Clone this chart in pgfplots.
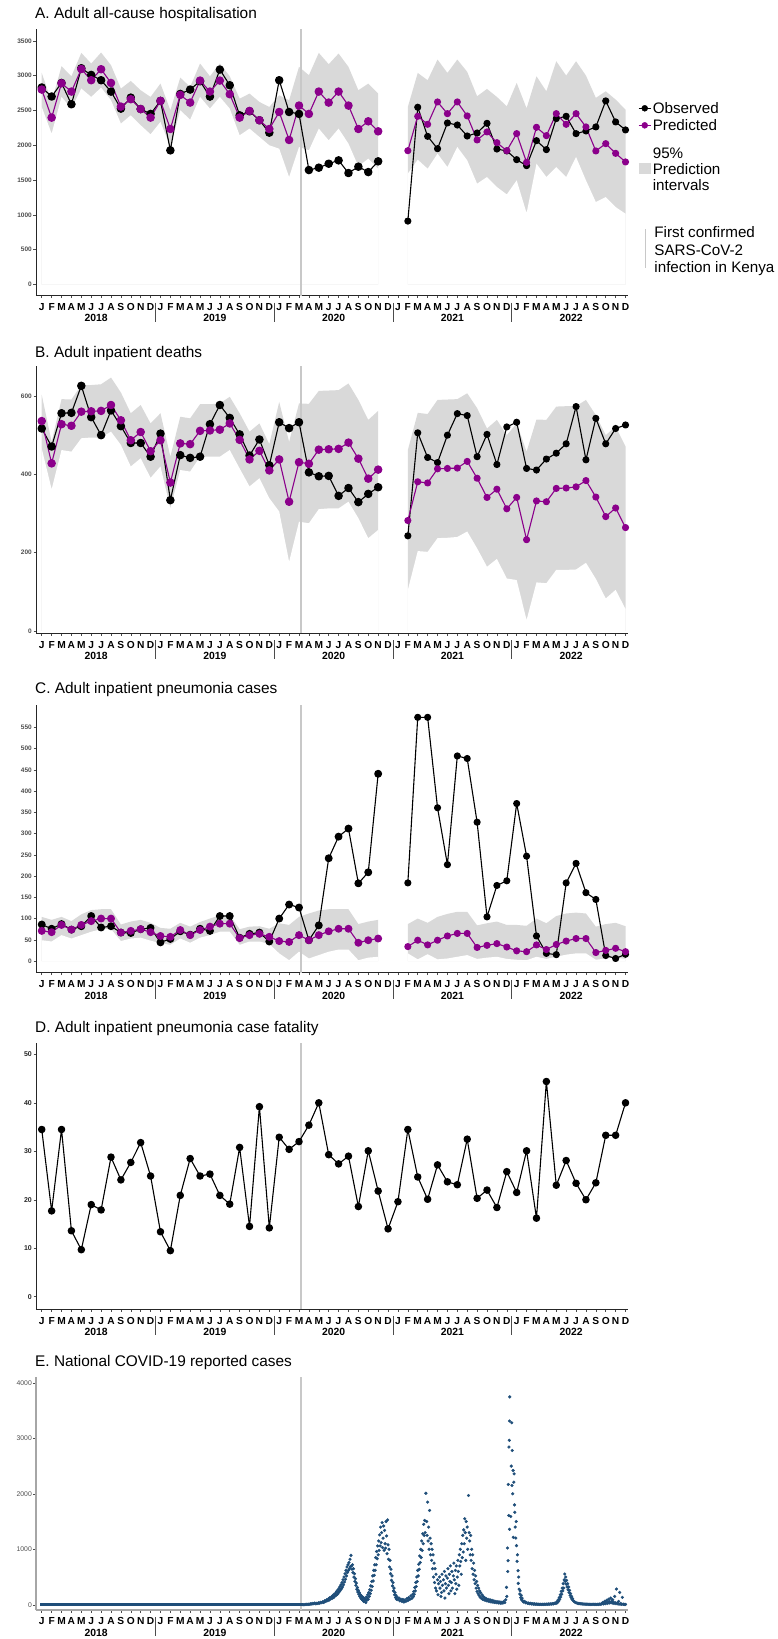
\documentclass[border=0pt]{standalone}
\usepackage{fontspec}
\setmainfont{Liberation Sans}
\usepackage{pgfplots}
\usepackage{pgfplotstable}
\pgfplotsset{compat=1.18}

\definecolor{pred}{RGB}{139,0,139}
\definecolor{band}{RGB}{217,217,217}
\definecolor{vl}{RGB}{200,200,200}
\definecolor{cov}{RGB}{31,78,121}
\definecolor{ticklab}{RGB}{77,77,77}

% ---------------- Panel A ----------------
\pgfplotstableread{
x obs pred lo hi
0 2830 2800 2550 3040
1 2700 2397 2167 2622
2 2895 2890 2694 3135
3 2589 2771 2526 2991
4 3106 3095 2814 3327
5 3010 2934 2694 3174
6 2934 3092 2828 3332
7 2771 2895 2646 3150
8 2526 2555 2311 2814
9 2684 2661 2430 2924
10 2520 2520 2287 2790
11 2450 2397 2157 2694
12 2637 2637 2335 2886
13 1927 2234 1975 2502
14 2737 2723 2502 2972
15 2800 2613 2368 2838
16 2919 2929 2694 3174
17 2699 2771 2526 2991
18 3087 2929 2694 3174
19 2862 2733 2526 2991
20 2430 2397 2143 2670
21 2488 2493 2239 2742
22 2359 2359 2119 2622
23 2181 2234 1999 2550
24 2934 2478 1951 2718
25 2478 2076 1544 2646
26 2450 2570 1975 3126
27 1644 2450 1927 3006
28 1678 2771 2239 3327
29 1735 2613 2071 3164
30 1783 2771 2239 3317
31 1601 2570 2023 3126
32 1692 2234 1697 2790
33 1615 2344 1807 2886
34 1769 2200 1663 2742
}\Aone
\pgfplotstableread{
x obs pred lo hi
37 911 1922 1592 2550
38 2546 2416 1793 3039
39 2128 2301 1663 2934
40 1951 2622 1879 3231
41 2320 2454 1687 3039
42 2291 2622 1975 3231
43 2133 2421 1783 3054
44 2176 2076 1448 2704
45 2315 2191 1544 2809
46 1946 2037 1400 2694
47 1918 1922 1294 2560
48 1793 2167 1496 2896
49 1707 1755 1026 2530
50 2066 2258 1735 2991
51 1937 2138 1544 2775
52 2383 2454 1687 3207
53 2416 2301 1544 3001
54 2167 2454 1831 3207
55 2205 2263 1496 3001
56 2263 1918 1184 2680
57 2637 2023 1256 2775
58 2335 1884 1112 2656
59 2220 1760 1016 2512
}\Atwo

% ---------------- Panel B ----------------
\pgfplotstableread{
x obs pred lo hi
0 517 536 466 603
1 471 428 362 483
2 556 528 462 592
3 557 524 458 591
4 626 560 492 628
5 546 561 494 628
6 500 562 494 630
7 563 577 509 647
8 523 538 475 609
9 480 487 420 556
10 480 508 441 577
11 445 459 391 530
12 504 487 420 556
13 334 379 313 445
14 449 479 411 547
15 442 477 407 543
16 445 511 445 579
17 528 512 445 579
18 577 514 445 581
19 544 530 462 598
20 502 488 415 556
21 448 438 369 509
22 489 460 390 530
23 423 410 339 477
24 533 438 305 585
25 518 330 177 483
26 533 431 279 581
27 405 427 275 580
28 395 463 311 613
29 396 464 313 614
30 345 465 313 615
31 365 481 330 632
32 329 440 288 590
33 350 389 237 539
34 367 412 258 562
}\Bone
\pgfplotstableread{
x obs pred lo hi
37 243 282 105 462
38 506 381 204 557
39 443 378 202 554
40 430 414 237 590
41 500 415 238 591
42 555 416 240 592
43 550 433 254 607
44 445 390 211 569
45 502 341 164 517
46 425 362 184 539
47 521 312 134 500
48 533 341 130 530
49 415 233 28 458
50 411 332 124 540
51 439 330 122 539
52 454 364 156 573
53 478 365 156 574
54 573 368 157 574
55 437 384 174 590
56 543 342 133 551
57 478 292 83 500
58 517 314 105 522
59 526 264 56 471
}\Btwo

% ---------------- Panel C ----------------
\pgfplotstableread{
x obs pred lo hi
0 86 71 49 104
1 76 68 46 97
2 87 85 61 104
3 74 74 53 94
4 82 85 61 110
5 106 94 69 120
6 79 100 75 122
7 82 100 75 122
8 67 67 47 86
9 66 71 53 93
10 75 75 55 97
11 78 68 48 90
12 44 59 42 78
13 52 57 38 76
14 70 73 53 90
15 62 61 43 81
16 76 73 55 92
17 71 81 61 100
18 106 88 69 108
19 106 88 69 108
20 55 54 38 75
21 64 61 46 81
22 67 64 46 82
23 46 57 40 76
24 100 47 18 89
25 133 45 2 85
26 126 61 22 104
27 49 49 6 112
28 84 61 14 119
29 242 70 22 122
30 293 76 27 122
31 312 76 27 122
32 183 43 2 87
33 209 49 8 93
34 441 53 10 97
}\Cone
\pgfplotstableread{
x obs pred lo hi
37 184 34 18 87
38 574 49 4 100
39 574 38 16 90
40 361 49 4 104
41 227 59 6 111
42 483 65 10 116
43 477 65 14 116
44 327 32 5 84
45 104 37 8 89
46 178 41 10 93
47 189 33 5 85
48 371 24 3 85
49 247 22 2 83
50 59 38 10 100
51 18 27 5 89
52 15 39 10 106
53 184 47 15 112
54 230 53 18 114
55 161 53 18 112
56 145 20 3 81
57 13 25 6 87
58 6 30 8 90
59 16 22 5 82
}\Ctwo

% ---------------- Panel D ----------------
\pgfplotstableread{
x cfr
0 34.5
1 17.7
2 34.5
3 13.6
4 9.7
5 19.0
6 17.9
7 28.8
8 24.1
9 27.7
10 31.8
11 24.9
12 13.4
13 9.5
14 20.9
15 28.5
16 24.9
17 25.3
18 20.9
19 19.1
20 30.8
21 14.5
22 39.2
23 14.2
24 32.9
25 30.4
26 32.0
27 35.4
28 40.0
29 29.3
30 27.4
31 29.0
32 18.6
33 30.1
34 21.8
35 14.0
36 19.6
37 34.5
38 24.7
39 20.1
40 27.2
41 23.7
42 23.1
43 32.5
44 20.3
45 22.0
46 18.4
47 25.8
48 21.5
49 30.1
50 16.2
51 44.4
52 23.0
53 28.1
54 23.4
55 20.0
56 23.5
57 33.3
58 33.3
59 40.0
}\Dtab

% ---------------- Panel E (daily cases, x in months since Jan 2018) ----------------
\pgfplotstableread{
x cases
26.4 0
26.5 2
26.6 4
26.7 6
26.8 9
26.9 5
27.0 12
27.1 9
27.2 18
27.3 13
27.4 25
27.5 19
27.6 30
27.7 16
27.8 28
27.9 22
28.0 36
28.1 29
28.2 45
28.3 37
28.4 55
28.5 43
28.6 70
28.7 58
28.8 90
28.9 74
29.0 110
29.05 85
29.1 125
29.2 105
29.3 145
29.35 115
29.4 165
29.5 130
29.55 190
29.6 150
29.7 210
29.75 170
29.8 240
29.9 190
29.95 270
30.0 220
30.05 300
30.1 240
30.15 330
30.2 270
30.25 360
30.3 290
30.35 400
30.4 320
30.45 450
30.5 360
30.55 500
30.6 410
30.65 560
30.7 460
30.75 620
30.8 520
30.85 680
30.9 580
30.95 720
31.0 620
31.05 760
31.1 650
31.15 820
31.2 690
31.25 890
31.3 700
31.35 640
31.4 720
31.45 580
31.5 650
31.55 500
31.6 560
31.65 420
31.7 470
31.75 350
31.8 390
31.85 280
31.9 310
31.95 230
32.0 260
32.05 190
32.1 220
32.15 150
32.2 180
32.25 120
32.3 160
32.35 100
32.4 140
32.45 80
32.5 130
32.55 60
32.6 110
32.7 90
32.75 40
32.8 140
32.85 80
32.9 120
32.95 180
33.0 100
33.05 220
33.1 150
33.15 270
33.2 200
33.25 340
33.3 260
33.35 420
33.4 330
33.45 520
33.5 430
33.55 620
33.6 530
33.65 720
33.7 620
33.75 850
33.8 720
33.85 960
33.9 830
33.95 1060
34.0 900
34.05 1150
34.1 980
34.15 1260
34.2 1060
34.25 1400
34.3 1120
34.35 1300
34.4 1480
34.45 1030
34.5 1200
34.55 1420
34.6 980
34.65 1340
34.7 1100
34.75 1020
34.8 1500
34.85 1240
34.9 920
34.95 1530
35.0 1080
35.05 820
35.1 1000
35.15 680
35.2 800
35.25 560
35.3 640
35.35 440
35.4 520
35.45 340
35.5 400
35.55 250
35.6 300
35.65 180
35.7 220
35.75 130
35.8 170
35.85 100
35.9 140
36.0 90
36.1 120
36.2 70
36.3 100
36.4 60
36.5 95
36.6 50
36.7 85
36.8 60
36.9 110
37.0 75
37.1 130
37.2 95
37.3 160
37.4 115
37.5 190
37.55 145
37.6 240
37.65 190
37.7 310
37.75 250
37.8 400
37.85 330
37.9 500
37.95 420
38.0 620
38.05 520
38.1 730
38.15 640
38.2 880
38.25 760
38.3 1000
38.35 850
38.4 1150
38.45 980
38.5 1280
38.55 1100
38.6 1450
38.65 1250
38.7 1520
38.75 1300
38.82 2010
38.9 1500
38.95 1250
39.0 1850
39.05 1150
39.1 1400
39.15 1000
39.2 1700
39.25 1200
39.3 900
39.35 1100
39.4 800
39.45 1000
39.5 650
39.55 900
39.6 500
39.65 750
39.7 400
39.75 650
39.8 300
39.85 550
39.9 250
40.0 450
40.05 180
40.1 380
40.2 500
40.25 300
40.3 420
40.35 150
40.4 220
40.45 550
40.5 350
40.6 450
40.65 250
40.7 600
40.75 120
40.8 380
40.85 520
40.9 300
41.0 480
41.05 650
41.1 350
41.15 200
41.2 550
41.25 420
41.3 700
41.35 250
41.4 400
41.45 600
41.5 300
41.6 520
41.65 750
41.7 450
41.75 200
41.8 620
41.85 380
41.9 700
41.95 280
42.0 500
42.05 800
42.1 600
42.15 350
42.2 900
42.25 700
42.3 1000
42.35 780
42.4 550
42.45 1100
42.5 850
42.55 1250
42.6 950
42.65 1350
42.7 1100
42.75 1550
42.8 1300
42.85 800
42.9 1500
42.95 1200
43.0 1400
43.05 1000
43.13 1970
43.2 1300
43.25 1150
43.3 900
43.35 1250
43.4 800
43.45 1000
43.5 650
43.55 900
43.6 550
43.65 750
43.7 450
43.75 620
43.8 380
43.85 520
43.9 300
43.95 420
44.0 240
44.05 350
44.1 200
44.15 300
44.2 170
44.25 250
44.3 140
44.35 220
44.4 120
44.5 180
44.55 100
44.6 150
44.7 90
44.75 130
44.8 80
44.9 110
45.0 70
45.1 100
45.2 60
45.3 90
45.4 50
45.5 80
45.6 45
45.7 70
45.8 40
45.9 60
46.0 35
46.1 55
46.2 30
46.3 50
46.4 25
46.5 45
46.6 30
46.7 60
46.8 40
46.9 90
46.97 313
47.0 150
47.07 1024
47.1 600
47.13 795
47.15 2169
47.2 1608
47.22 2843
47.25 2964
47.27 3313
47.28 1360
47.3 3747
47.4 1590
47.45 2500
47.5 3280
47.52 2150
47.55 2780
47.6 2000
47.64 2420
47.66 1215
47.71 2210
47.74 2360
47.78 1800
47.81 1667
47.85 1400
47.91 1203
47.95 1500
47.98 1065
48.04 783
48.08 900
48.14 614
48.16 385
48.2 500
48.25 280
48.31 193
48.35 250
48.4 130
48.45 170
48.5 90
48.55 120
48.6 70
48.7 50
48.8 60
48.9 35
49.0 40
49.1 25
49.2 30
49.3 20
49.4 25
49.5 15
49.6 18
49.7 12
49.8 15
49.9 10
50.0 12
50.1 8
50.2 10
50.3 6
50.4 9
50.5 5
50.6 8
50.7 6
50.8 10
50.9 7
51.0 12
51.1 8
51.2 14
51.3 10
51.4 16
51.5 12
51.6 20
51.7 15
51.8 28
51.9 22
52.0 40
52.05 30
52.1 60
52.15 45
52.2 90
52.25 70
52.3 130
52.35 100
52.4 180
52.45 140
52.5 240
52.55 190
52.6 300
52.65 250
52.7 380
52.75 300
52.8 450
52.86 554
52.9 420
52.95 500
53.0 370
53.05 440
53.1 320
53.15 380
53.2 270
53.25 320
53.3 220
53.35 260
53.4 170
53.45 200
53.5 130
53.55 150
53.6 100
53.65 110
53.7 75
53.8 60
53.9 45
54.0 35
54.1 30
54.2 25
54.3 20
54.4 22
54.5 15
54.6 18
54.7 12
54.8 14
54.9 10
55.0 12
55.1 8
55.2 10
55.3 6
55.4 9
55.5 5
55.6 8
55.7 6
55.8 10
55.9 5
56.0 8
56.1 5
56.2 10
56.3 6
56.4 12
56.5 8
56.6 20
56.7 40
56.75 15
56.8 25
56.9 60
56.95 20
57.0 35
57.1 80
57.15 25
57.2 45
57.3 100
57.35 30
57.4 55
57.5 120
57.55 35
57.6 60
57.7 90
57.75 25
57.8 45
57.9 150
57.95 20
58.0 35
58.08 283
58.15 15
58.2 30
58.3 60
58.35 10
58.41 223
58.5 20
58.55 8
58.6 12
58.68 132
58.75 8
58.8 10
58.9 5
59.0 6
}\Etab

\tikzset{
  yl/.style={font=\fontsize{10.4}{11}\selectfont\bfseries, inner sep=0pt, anchor=center, yshift=-22.8pt},
  sepl/.style={black!70, line width=0.8pt},
  ttl/.style={anchor=west, inner sep=0pt, font=\fontsize{15.4}{17}\selectfont},
  lg/.style={anchor=west, inner sep=0pt, font=\fontsize{15.2}{17}\selectfont},
}
\newcommand{\yearstuff}[1]{%
  \node[yl] at (axis cs:5.5,#1) {2018};
  \node[yl] at (axis cs:17.5,#1) {2019};
  \node[yl] at (axis cs:29.5,#1) {2020};
  \node[yl] at (axis cs:41.5,#1) {2021};
  \node[yl] at (axis cs:53.5,#1) {2022};
  \draw[sepl] (axis cs:11.5,#1) ++(0pt,-7pt) -- ++(0pt,-19pt);
  \draw[sepl] (axis cs:23.5,#1) ++(0pt,-7pt) -- ++(0pt,-19pt);
  \draw[sepl] (axis cs:35.5,#1) ++(0pt,-7pt) -- ++(0pt,-19pt);
  \draw[sepl] (axis cs:47.5,#1) ++(0pt,-7pt) -- ++(0pt,-19pt);
}

\pgfplotsset{
  panel/.style={
    scale only axis, width=592pt,
    xmin=-0.58, xmax=59.25,
    axis lines*=left,
    axis line style={black!85, line width=0.9pt},
    tick align=outside,
    major tick length=2.5pt,
    tick style={black!70, line width=0.5pt},
    xtick={0,...,59},
    xticklabels={J,F,M,A,M,J,J,A,S,O,N,D,J,F,M,A,M,J,J,A,S,O,N,D,J,F,M,A,M,J,J,A,S,O,N,D,J,F,M,A,M,J,J,A,S,O,N,D,J,F,M,A,M,J,J,A,S,O,N,D},
    xticklabel style={font=\fontsize{10.2}{11}\selectfont\bfseries, anchor=north, inner sep=0pt, yshift=-5pt},
    yticklabel style={font=\fontsize{6.5}{7}\selectfont\bfseries, text=ticklab, inner sep=1.5pt},
    /pgf/number format/assume math mode=true,
    /pgf/number format/1000 sep={},
    clip=false,
  },
  obsl/.style={black, line width=1.1pt, line join=round, mark=*, mark size=#1, mark options={fill=black}},
  predl/.style={pred, line width=1.1pt, line join=round, mark=*, mark size=#1, mark options={fill=pred, draw=pred}},
  vline/.style={vl, line width=1.3pt},
  bandup/.style={fill=band, draw=none},
  bandlo/.style={fill=white, draw=none},
}

\begin{document}
\begin{tikzpicture}
\useasboundingbox (0pt,0pt) rectangle (778pt,-1639pt);

% ---------------- A ----------------
\node[ttl] at (35pt,-14.2pt) {A. Adult all-cause hospitalisation};
\begin{axis}[panel, at={(36pt,-295.5pt)}, anchor=south west, height=267pt,
  ymin=-158, ymax=3677, ytick={0,500,...,3500}]
  \addplot[bandup] table[x=x,y=hi]{\Aone} \closedcycle;
  \addplot[bandlo] table[x=x,y=lo]{\Aone} \closedcycle;
  \addplot[bandup] table[x=x,y=hi]{\Atwo} \closedcycle;
  \addplot[bandlo] table[x=x,y=lo]{\Atwo} \closedcycle;
  \addplot[vline] coordinates {(26.2,-158) (26.2,3677)};
  \addplot[obsl=3.7pt] table[x=x,y=obs]{\Aone};
  \addplot[predl=3.7pt] table[x=x,y=pred]{\Aone};
  \addplot[obsl=3pt] table[x=x,y=obs]{\Atwo};
  \addplot[predl=3pt] table[x=x,y=pred]{\Atwo};
  % legend keys
  \addplot[black, line width=1.1pt] coordinates {(60.33,2531) (61.54,2531)};
  \addplot[black, only marks, mark=*, mark size=3pt] coordinates {(60.94,2531)};
  \addplot[pred, line width=1.1pt] coordinates {(60.33,2286) (61.54,2286)};
  \addplot[pred, only marks, mark=*, mark size=3pt, mark options={fill=pred}] coordinates {(60.94,2286)};
  \addplot[band, line width=11.3pt] coordinates {(60.36,1663) (61.61,1663)};
  \addplot[vl, line width=1.3pt] coordinates {(61.01,791) (61.01,230)};
  \node[lg] at (axis cs:61.74,2531) {Observed};
  \node[lg] at (axis cs:61.74,2286) {Predicted};
  \node[lg] at (axis cs:61.74,1888) {95\%};
  \node[lg] at (axis cs:61.74,1664) {Prediction};
  \node[lg] at (axis cs:61.74,1424) {intervals};
  \node[lg] at (axis cs:61.9,748) {First confirmed};
  \node[lg] at (axis cs:61.9,489) {SARS-CoV-2};
  \node[lg] at (axis cs:61.9,230) {infection in Kenya};
  \yearstuff{-158}
\end{axis}

% ---------------- B ----------------
\node[ttl] at (35pt,-354pt) {B. Adult inpatient deaths};
\begin{axis}[panel, at={(36pt,-633.3pt)}, anchor=south west, height=267.3pt,
  ymin=-6, ymax=676.6, ytick={0,200,400,600}]
  \addplot[bandup] table[x=x,y=hi]{\Bone} \closedcycle;
  \addplot[bandlo] table[x=x,y=lo]{\Bone} \closedcycle;
  \addplot[bandup] table[x=x,y=hi]{\Btwo} \closedcycle;
  \addplot[bandlo] table[x=x,y=lo]{\Btwo} \closedcycle;
  \addplot[vline] coordinates {(26.2,-6) (26.2,676.6)};
  \addplot[obsl=3.7pt] table[x=x,y=obs]{\Bone};
  \addplot[predl=3.7pt] table[x=x,y=pred]{\Bone};
  \addplot[obsl=3pt] table[x=x,y=obs]{\Btwo};
  \addplot[predl=3pt] table[x=x,y=pred]{\Btwo};
  \yearstuff{-6}
\end{axis}

% ---------------- C ----------------
\node[ttl] at (35pt,-690pt) {C. Adult inpatient pneumonia cases};
\begin{axis}[panel, at={(36pt,-972.7pt)}, anchor=south west, height=267.7pt,
  ymin=-27.5, ymax=603, ytick={0,50,...,550}]
  \addplot[bandup] table[x=x,y=hi]{\Cone} \closedcycle;
  \addplot[bandlo] table[x=x,y=lo]{\Cone} \closedcycle;
  \addplot[bandup] table[x=x,y=hi]{\Ctwo} \closedcycle;
  \addplot[bandlo] table[x=x,y=lo]{\Ctwo} \closedcycle;
  \addplot[vline] coordinates {(26.2,-27.5) (26.2,603)};
  \addplot[obsl=3.4pt] table[x=x,y=obs]{\Cone};
  \addplot[predl=3.4pt] table[x=x,y=pred]{\Cone};
  \addplot[obsl=3pt] table[x=x,y=obs]{\Ctwo};
  \addplot[predl=3pt] table[x=x,y=pred]{\Ctwo};
  \yearstuff{-27.5}
\end{axis}

% ---------------- D ----------------
\node[ttl] at (35pt,-1029pt) {D. Adult inpatient pneumonia case fatality};
\begin{axis}[panel, at={(36pt,-1309.3pt)}, anchor=south west, height=266.6pt,
  ymin=-2.6, ymax=52.4, ytick={0,10,...,50},
  yticklabel style={text=black!85, font=\fontsize{7}{8}\selectfont\bfseries}]
  \addplot[vline] coordinates {(26.2,-2.6) (26.2,52.4)};
  \addplot[obsl=3.2pt] table[x=x,y=cfr]{\Dtab};
  \yearstuff{-2.6}
\end{axis}

% ---------------- E ----------------
\node[ttl] at (35pt,-1363pt) {E. National COVID-19 reported cases};
\begin{axis}[panel, at={(36pt,-1610pt)}, anchor=south west, height=232.7pt,
  ymin=-95, ymax=4100, ytick={0,1000,...,4000},
  axis line style={black!35, line width=1.3pt},
  yticklabel style={font=\fontsize{6.8}{7}\selectfont, text=ticklab}]
  \addplot[vline] coordinates {(26.2,-95) (26.2,4100)};
  \addplot[cov, line width=3pt] coordinates {(-0.15,0) (26.4,0)};
  \addplot[cov, only marks, mark=*, mark size=1.4pt, mark options={draw=cov, fill=cov}] table[x=x,y=cases]{\Etab};
  \yearstuff{-95}
\end{axis}
\end{tikzpicture}
\end{document}
